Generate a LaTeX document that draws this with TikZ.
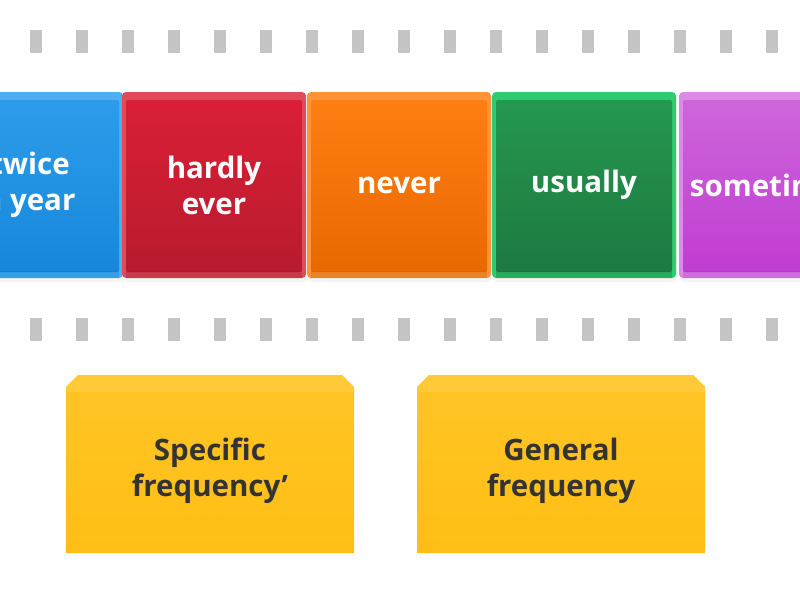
\documentclass[tikz,border=0pt]{standalone}
\usepackage{fontspec}
\newfontfamily\tilefont{Open Sans}
\definecolor{dashgray}{HTML}{C4C4C4}
\definecolor{blueB}{HTML}{4DAFF0}\definecolor{blueT}{HTML}{2C9CEA}\definecolor{blueD}{HTML}{1787DA}
\definecolor{redB}{HTML}{E04A5A}\definecolor{redT}{HTML}{DA1F37}\definecolor{redD}{HTML}{B81B2D}
\definecolor{orB}{HTML}{FF9436}\definecolor{orT}{HTML}{FF7E14}\definecolor{orD}{HTML}{E86900}
\definecolor{grB}{HTML}{2ECC71}\definecolor{grT}{HTML}{25984F}\definecolor{grD}{HTML}{1D7941}
\definecolor{puB}{HTML}{DB8BE6}\definecolor{puT}{HTML}{CD66DA}\definecolor{puD}{HTML}{C03CD2}
\definecolor{yelB}{HTML}{FFCB3D}\definecolor{yelT}{HTML}{FFC526}\definecolor{yelD}{HTML}{FFBE14}
\definecolor{txtdark}{HTML}{333333}
\tikzset{
  dashmark/.style={fill=dashgray, draw=none},
  tiletext/.style={font=\tilefont\bfseries\fontsize{29.5}{36}\selectfont, text=white, align=center, inner sep=0pt},
  boxtext/.style={font=\tilefont\bfseries\fontsize{29.5}{36}\selectfont, text=txtdark, align=center, inner sep=0pt},
}
\newcommand{\mytile}[7]{%
  % #1 name, #2 left x, #3 border, #4 top, #5 bottom, #6 text, #7 text x shift
  \fill[black!4, rounded corners=4] (#2+1,95) rectangle (#2+185,282);
  \fill[#3, rounded corners=4] (#2,92) rectangle (#2+184,278);
  \shade[top color=#4, bottom color=#5, rounded corners=2] (#2+4,100) rectangle (#2+180,272);
  \fill[#5!85!black, opacity=0.3] (#2+4,271) rectangle (#2+180,278);
  \node[tiletext] (#1) at (#2+92+#7,185) {#6};
}
\begin{document}
\begin{tikzpicture}[x=1pt,y=-1pt]
\useasboundingbox (0,0) rectangle (800,600);
\fill[white] (0,0) rectangle (800,600);
\clip (0,0) rectangle (800,600);
% dashed guide rows
\foreach \i in {0,...,16}{
  \fill[dashmark] (30+46*\i,30) rectangle (42+46*\i,53);
  \fill[dashmark] (30+46*\i,318) rectangle (42+46*\i,341);
}
% tiles
\mytile{t1}{-61}{blueB}{blueT}{blueD}{twice\\a year}{-1}
\mytile{t2}{122}{redB}{redT}{redD}{hardly\\ever}{0}
\mytile{t3}{307}{orB}{orT}{orD}{never}{0}
\mytile{t4}{492}{grB}{grT}{grD}{usually}{0}
\mytile{t5}{679}{puB}{puT}{puD}{sometimes}{0}
% yellow boxes
\foreach \bx/\nm in {66/b1,417/b2}{
  \shade[top color=yelT, bottom color=yelD] (\bx,387) -- (\bx+12,375) -- (\bx+276,375) -- (\bx+288,387) -- (\bx+288,553) -- (\bx,553) -- cycle;
  \fill[yelB, opacity=0.8] (\bx,387) -- (\bx+12,375) -- (\bx+276,375) -- (\bx+288,387) -- (\bx+288,392) -- (\bx,392) -- cycle;
}
\node[boxtext] (s1) at (210,471) {Specific\\frequency’};
\node[boxtext] (s2) at (561,471) {General\\frequency};
\end{tikzpicture}
\end{document}
